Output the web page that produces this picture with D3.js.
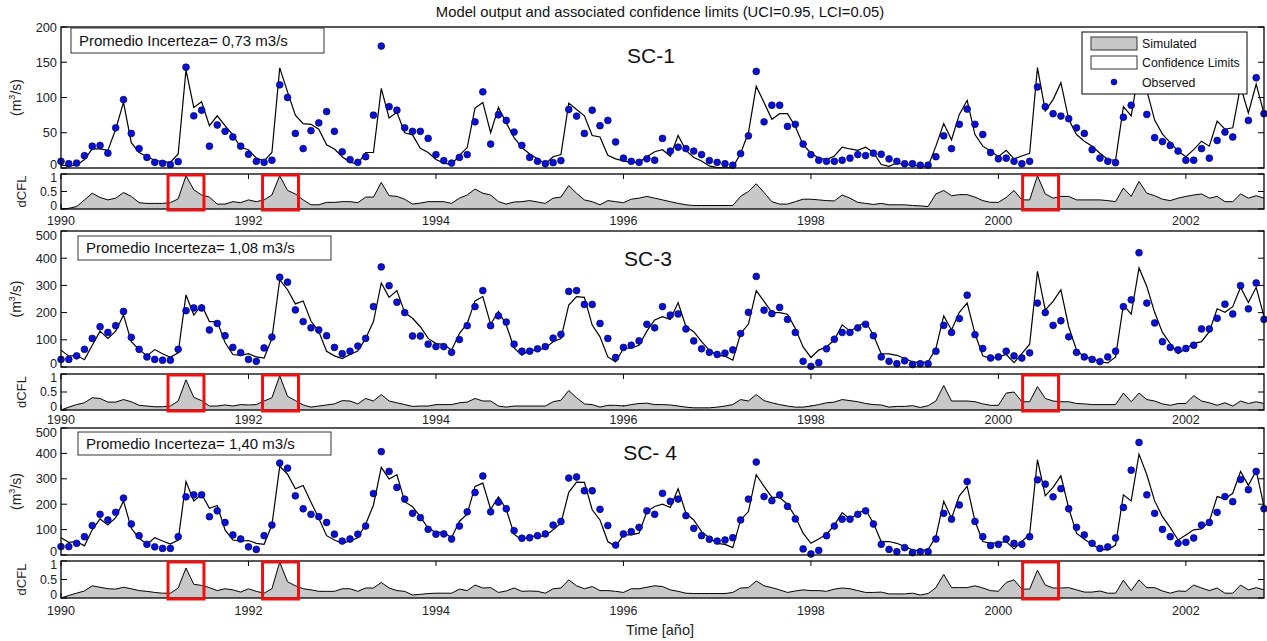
<!DOCTYPE html>
<html><head><meta charset="utf-8">
<script src="https://cdn.jsdelivr.net/npm/d3@7"></script>
<style>body{margin:0;background:#fff}svg{display:block;font-family:"Liberation Sans",Arial,sans-serif}</style>
</head><body>
<svg id="c" width="1267" height="641"></svg>
<script>
// ---------- DATA ----------
const startYear = 1990;
const nMonths = 155;
const yearTicks = [1990, 1992, 1994, 1996, 1998, 2000, 2002];
const qTicksSC1 = [0, 50, 100, 150, 200];
const qTicksSC34 = [0, 100, 200, 300, 400, 500];
const dcflTicks = [0, 0.5, 1];
const stationNames = ["SC-1", "SC-3", "SC- 4"];
const uncertaintyLabels = ["Promedio Incerteza= 0,73 m3/s", "Promedio Incerteza= 1,08 m3/s", "Promedio Incerteza= 1,40 m3/s"];
const legendLabels = ["Simulated", "Confidence Limits", "Observed"];
// highlighted periods (month index from Jan 1990)
const highlightStart = [13.7, 25.8, 123.1];
const highlightEnd = [18.3, 30.4, 127.7];

const sc1Obs = [9.5,6,7,17.5,31,32,21,57,97,49,27.5,15,8,6.7,4.7,9,143,74,82,31,61,52,44,31,19.5,9.5,8,11,118,100,49,27.5,53,64,80,52,23,12,8,16,75,173,87,82,57,52,52,
42,19,10.5,7,15,19,65.5,108,34,75.5,67.5,51,32,15,9.5,6,7.6,10.5,83,73.6,49,82,60,67.5,37,14,9.5,8,13,11,42,24,29.5,27.5,24,19,10.5,8,6,4,20.4,45.6,137,65.5,89,89,59,62,34,19,11,9.5,9.5,
11,14,19,17.6,21,19.5,13,9.5,6,6,4,4,16,45.6,27.5,62,83.6,62,47.5,22,13,14,9.5,6,9.5,115,87,77,73.6,70,57,49,26,14,9.5,7.6,72,89,125,76,43,37.5,32,24,11,11,27.5,14,39,51,44,112,67.5,128,77];
const sc1Sim = [4,3,4,12,27,27,25,55,93,36,22,16,11,9,8,20,139,86,94,60,74,60,47,29,26,14,10,22,142,108,75,63,62,55,33,27,16,8,6,22,22,113,71,79,50,47,28,
22,12,7,5,18,29,85,93,50,86,64,43,29,20,13,6,16,19,92,83,74,46,44,18,13,10,8,8,16,23,26,16.6,46,25,15,10,3,0.5,0.5,0.5,21,50,116,93,69,77,77,59,33,21,14,12,17,
29.5,27,25,29.5,22,5,2.4,7,5,4,2.4,2.4,31,63,40,76,96,47.5,31,24,16,25,13,17,21,142.5,81,97,121,69,47.5,38,31,21,12,11,87,74,140,110,68,48,36,24,16,26,38,31,66.5,55,57,116,78,119,77];
const sc1Dcfl = [0,0.02,0.07,0.26,0.45,0.33,0.26,0.31,0.47,0.36,0.18,0.16,0.16,0.16,0.18,0.29,0.95,0.55,0.4,0.34,0.14,0.14,0.21,0.18,0.26,0.21,0.26,0.4,0.95,0.53,0.43,0.26,0.12,0.12,0.19,0.19,0.21,0.21,0.18,0.34,0.34,0.76,0.38,0.36,0.28,0.14,0.17,
0.21,0.21,0.21,0.16,0.31,0.4,0.57,0.45,0.4,0.21,0.14,0.2,0.21,0.24,0.2,0.16,0.31,0.34,0.67,0.45,0.26,0.21,0.12,0.24,0.21,0.18,0.28,0.31,0.36,0.31,0.26,0.21,0.16,0.12,0.1,0.1,0.1,0.1,0.1,0.1,0.36,0.5,0.72,0.47,0.21,0.14,0.14,0.21,0.28,0.28,0.26,0.24,0.23,
0.4,0.31,0.19,0.16,0.13,0.16,0.12,0.12,0.12,0.1,0.09,0.07,0.43,0.53,0.38,0.41,0.41,0.34,0.24,0.19,0.19,0.33,0.53,0.26,0.26,0.95,0.43,0.31,0.36,0.36,0.26,0.26,0.26,0.26,0.24,0.21,0.6,0.36,0.79,0.45,0.38,0.28,0.24,0.31,0.36,0.4,0.43,0.31,0.36,0.21,0.21,0.43,0.31,0.38,0.31];

const sc3Obs = [28,28,41,65,105,148,127,152,204,109,65,37,28,25,25,65,207,217,217,136,160,115,72,53,28,21,70,110,330,312,210,167,144,136,115,72,49,58,77,105,222,368,299,238,200,114,114,
84,75,75,54,101,152,222,281,152,188,165,84,58,58,67,75,106,120,278,281,230,230,160,105,35,72,80,96,157,144,222,191,195,140,96,67,54,46,51,63,123,201,333,209,196,219,175,127,21,2.5,16,67,102,
127,127,144,157,115,37,21,12,23,9,12,12,58,153,127,178,264,119,68,33,37,58,41,33,52,235,200,153,170,111,54,37,28,20,37,58,222,247,420,235,162,93,72,63,68,80,140,140,179,231,195,299,214,309,175];
const sc3Sim = [62,40,43,27,80,132,105,132,191,93,64,41,64,49,36,52,265,191,228,167,167,90,46,43,49,37,33,105,321,284,232,243,169,130,58,41,31,46,59,105,167,309,256,281,200,179,148,
105,86,83,62,123,160,243,259,157,204,154,70,43,62,62,70,93,105,228,259,256,154,111,37,19,68,70,80,132,173,185,175,237,148,130,93,62,43,40,25,123,158,281,241,201,200,194,142,74,35,62,74,100,
155,132,148,167,117,49,48,43,31,19,16,19,68,188,136,201,235,123,41,31,37,46,16,49,84,352,210,241,284,148,62,37,31,19,15,37,228,194,364,296,201,127,86,49,68,86,93,130,214,201,222,293,237,293,185];
const sc3Dcfl = [0,0.08,0.15,0.2,0.34,0.32,0.22,0.22,0.29,0.23,0.13,0.11,0.09,0.09,0.11,0.25,0.84,0.35,0.26,0.11,0.11,0.14,0.11,0.15,0.14,0.15,0.25,0.34,0.95,0.38,0.26,0.14,0.08,0.11,0.14,0.17,0.26,0.25,0.17,0.32,0.25,0.43,0.25,0.2,0.15,0.1,0.11,
0.11,0.15,0.15,0.15,0.2,0.22,0.32,0.25,0.25,0.11,0.08,0.11,0.11,0.11,0.11,0.11,0.23,0.27,0.54,0.34,0.17,0.15,0.08,0.13,0.13,0.11,0.15,0.18,0.19,0.15,0.15,0.14,0.11,0.08,0.06,0.06,0.06,0.08,0.11,0.15,0.29,0.25,0.43,0.26,0.2,0.15,0.11,0.08,0.08,0.11,0.15,0.2,0.22,
0.29,0.26,0.23,0.18,0.15,0.14,0.08,0.1,0.1,0.12,0.07,0.12,0.25,0.68,0.25,0.25,0.25,0.23,0.17,0.13,0.13,0.47,0.5,0.23,0.23,0.65,0.32,0.25,0.23,0.23,0.18,0.17,0.15,0.15,0.15,0.15,0.47,0.23,0.47,0.29,0.25,0.17,0.13,0.18,0.18,0.4,0.25,0.2,0.13,0.2,0.11,0.25,0.18,0.23,0.18];

const sc4Obs = [33,33,46,72,116,160,138,168,224,122,76,42,32,26,26,72,229,237,237,151,174,128,79,63,32,22,76,118,362,342,233,182,160,151,128,82,55,63,82,114,242,407,329,266,220,164,147,
101,82,83,63,114,170,246,311,170,208,182,96,66,68,76,83,118,132,303,307,253,253,180,116,39,83,92,109,174,160,243,211,220,155,105,76,62,55,59,68,138,220,366,230,214,237,191,142,24,4,18,76,114,
141,141,160,174,122,42,22,13,29,9,13,13,63,164,141,197,289,132,72,37,42,63,46,42,72,296,279,229,261,182,109,79,46,26,32,67,187,334,443,237,164,101,72,46,50,67,118,128,168,230,210,297,257,329,182];
const sc4Sim = [68,50,53,36,99,142,118,147,213,105,66,42,68,55,43,59,289,213,239,184,195,99,59,55,57,46,42,118,349,318,261,274,208,145,76,59,46,55,68,121,197,345,299,316,210,190,151,
105,89,89,68,132,162,270,283,180,229,180,82,59,75,72,76,99,125,247,287,286,178,138,53,33,79,79,86,171,191,200,187,261,164,138,92,68,46,42,29,138,171,316,270,228,226,200,151,86,46,63,82,118,
167,141,164,178,125,53,53,46,33,20,16,22,72,211,145,233,270,134,53,46,49,53,24,53,82,375,233,266,312,184,86,62,42,22,20,39,237,213,397,316,213,151,108,59,79,99,103,132,230,221,243,329,274,332,191];
const sc4Dcfl = [0,0.07,0.13,0.19,0.33,0.29,0.25,0.24,0.29,0.25,0.2,0.18,0.15,0.13,0.13,0.27,0.81,0.37,0.34,0.28,0.2,0.25,0.22,0.16,0.25,0.18,0.13,0.25,0.97,0.44,0.33,0.25,0.22,0.18,0.18,0.18,0.25,0.25,0.18,0.27,0.27,0.42,0.27,0.2,0.18,0.08,0.1,
0.12,0.13,0.13,0.13,0.24,0.2,0.35,0.27,0.28,0.15,0.19,0.27,0.18,0.19,0.18,0.13,0.25,0.27,0.49,0.33,0.25,0.31,0.2,0.2,0.18,0.15,0.25,0.25,0.29,0.33,0.31,0.22,0.18,0.13,0.12,0.12,0.12,0.12,0.12,0.15,0.27,0.28,0.46,0.33,0.28,0.22,0.15,0.19,0.22,0.2,0.2,0.18,0.24,
0.27,0.25,0.2,0.15,0.15,0.16,0.11,0.11,0.11,0.13,0.08,0.12,0.28,0.64,0.28,0.28,0.28,0.33,0.27,0.2,0.18,0.42,0.49,0.24,0.24,0.75,0.35,0.27,0.27,0.28,0.22,0.16,0.16,0.19,0.13,0.13,0.48,0.2,0.49,0.28,0.28,0.19,0.13,0.19,0.18,0.35,0.27,0.2,0.27,0.13,0.13,0.35,0.22,0.28,0.22];

// ---------- LAYOUT ----------
const X0 = 61, X1 = 1264;
const panels = [
  {name: stationNames[0], label: uncertaintyLabels[0], obs: sc1Obs, sim: sc1Sim, dcfl: sc1Dcfl, yMax: 200, yTicks: qTicksSC1,
   main: [27, 168], dc: [174, 209], xLab: 225, box: [71, 28, 253, 25], nameXY: [651, 63]},
  {name: stationNames[1], label: uncertaintyLabels[1], obs: sc3Obs, sim: sc3Sim, dcfl: sc3Dcfl, yMax: 500, yTicks: qTicksSC34,
   main: [231, 367], dc: [374, 410], xLab: 424, box: [78, 236, 253, 24], nameXY: [648, 266]},
  {name: stationNames[2], label: uncertaintyLabels[2], obs: sc4Obs, sim: sc4Sim, dcfl: sc4Dcfl, yMax: 500, yTicks: qTicksSC34,
   main: [428, 555], dc: [561, 598], xLab: 615, box: [78, 432, 253, 23], nameXY: [650, 460]}
];

const svg = d3.select("#c");
const months = d3.range(nMonths);
const x = d3.scaleLinear().domain([0, nMonths - 1]).range([X0, X1]);
const xYear = d3.scaleLinear().domain([startYear, startYear + (nMonths - 1) / 12]).range([X0, X1]);

// title
svg.append("text").attr("x", 660).attr("y", 17).attr("text-anchor", "middle")
  .attr("font-size", 14.8).attr("fill", "#111").text("Model output and associated confidence limits (UCI=0.95, LCI=0.05)");

panels.forEach((p, pi) => {
  const y = d3.scaleLinear().domain([0, p.yMax]).range([p.main[1], p.main[0]]);
  const yd = d3.scaleLinear().domain([0, 1]).range([p.dc[1], p.dc[0]]);
  const g = svg.append("g");

  // ---- main panel ----
  const line = d3.line().x(i => x(i)).y(i => y(p.sim[i]));
  g.append("path").datum(months).attr("d", line).attr("fill", "none")
    .attr("stroke", "#000").attr("stroke-width", 1.2).attr("stroke-linejoin", "miter");
  g.selectAll(".obs").data(months).join("circle")
    .attr("cx", i => x(i)).attr("cy", i => y(p.obs[i])).attr("r", 3.4)
    .attr("fill", "#0a12d2").attr("stroke", "#00006a").attr("stroke-width", 0.7);
  g.append("rect").attr("x", X0).attr("y", p.main[0]).attr("width", X1 - X0).attr("height", p.main[1] - p.main[0])
    .attr("fill", "none").attr("stroke", "#000").attr("stroke-width", 1.3);
  // y ticks (inside, both sides)
  const topTick = p.yTicks[p.yTicks.length - 1];
  p.yTicks.forEach(t => {
    g.append("line").attr("x1", X0).attr("x2", X0 + 6).attr("y1", y(t)).attr("y2", y(t)).attr("stroke", "#000");
    g.append("line").attr("x1", X1 - 6).attr("x2", X1).attr("y1", y(t)).attr("y2", y(t)).attr("stroke", "#000");
    let off = 0;
    if (t === 0) off = -4;
    if (t === topTick && pi > 0) off = 4;
    g.append("text").attr("x", X0 - 4).attr("y", y(t) + off).attr("dy", "0.36em").attr("text-anchor", "end")
      .attr("font-size", 12.8).attr("fill", "#222").text(t);
  });
  // y label
  const yl = g.append("text").attr("transform", `translate(21,${(p.main[0] + p.main[1]) / 2}) rotate(-90)`)
    .attr("text-anchor", "middle").attr("font-size", 14).attr("fill", "#222");
  yl.append("tspan").text("(m");
  yl.append("tspan").attr("font-size", 9).attr("dy", -6).text("3");
  yl.append("tspan").attr("dy", 6).text("/s)");

  // uncertainty box
  g.append("rect").attr("x", p.box[0]).attr("y", p.box[1]).attr("width", p.box[2]).attr("height", p.box[3])
    .attr("fill", "#fff").attr("stroke", "#333").attr("stroke-width", 1);
  g.append("text").attr("x", p.box[0] + 8).attr("y", p.box[1] + p.box[3] / 2).attr("dy", "0.36em")
    .attr("font-size", 15).attr("fill", "#111").text(p.label);
  // station name
  g.append("text").attr("x", p.nameXY[0]).attr("y", p.nameXY[1]).attr("text-anchor", "middle")
    .attr("font-size", 21).attr("fill", "#111").text(p.name);

  // ---- dCFL panel ----
  yearTicks.forEach(t => {
    g.append("line").attr("x1", xYear(t)).attr("x2", xYear(t)).attr("y1", p.dc[0]).attr("y2", p.dc[0] + 5).attr("stroke", "#000");
    g.append("line").attr("x1", xYear(t)).attr("x2", xYear(t)).attr("y1", p.dc[1]).attr("y2", p.dc[1] - 5).attr("stroke", "#000");
  });
  const area = d3.area().x(i => x(i)).y0(yd(0)).y1(i => yd(p.dcfl[i]));
  g.append("path").datum(months).attr("d", area).attr("fill", "#c8c8c8").attr("stroke", "none");
  const dline = d3.line().x(i => x(i)).y(i => yd(p.dcfl[i]));
  g.append("path").datum(months).attr("d", dline).attr("fill", "none").attr("stroke", "#000").attr("stroke-width", 1);
  g.append("rect").attr("x", X0).attr("y", p.dc[0]).attr("width", X1 - X0).attr("height", p.dc[1] - p.dc[0])
    .attr("fill", "none").attr("stroke", "#000").attr("stroke-width", 1.3);
  dcflTicks.forEach(t => {
    g.append("line").attr("x1", X0).attr("x2", X0 + 6).attr("y1", yd(t)).attr("y2", yd(t)).attr("stroke", "#000");
    g.append("line").attr("x1", X1 - 6).attr("x2", X1).attr("y1", yd(t)).attr("y2", yd(t)).attr("stroke", "#000");
    let off = 0;
    if (t === 1) off = 4;
    if (t === 0) off = -3;
    g.append("text").attr("x", X0 - 4).attr("y", yd(t) + off).attr("dy", "0.36em").attr("text-anchor", "end")
      .attr("font-size", 12.3).attr("fill", "#222").text(t);
  });
  g.append("text").attr("transform", `translate(26,${(p.dc[0] + p.dc[1]) / 2}) rotate(-90)`)
    .attr("text-anchor", "middle").attr("font-size", 13).attr("fill", "#222").text("dCFL");
  // year labels
  yearTicks.forEach(t => {
    g.append("text").attr("x", xYear(t)).attr("y", p.xLab).attr("text-anchor", "middle")
      .attr("font-size", 12.5).attr("fill", "#222").text(t);
  });
  // highlight boxes
  highlightStart.forEach((s, k) => {
    g.append("rect").attr("x", x(s)).attr("y", p.dc[0] + 1).attr("width", x(highlightEnd[k]) - x(s)).attr("height", p.dc[1] - p.dc[0])
      .attr("fill", "none").attr("stroke", "#f01010").attr("stroke-width", 3);
  });
});

// x axis title
svg.append("text").attr("x", 660).attr("y", 635).attr("text-anchor", "middle")
  .attr("font-size", 14.5).attr("fill", "#222").text("Time [año]");

// legend
const lg = svg.append("g");
lg.append("rect").attr("x", 1082).attr("y", 32).attr("width", 165).attr("height", 62)
  .attr("fill", "#fff").attr("stroke", "#000").attr("stroke-width", 1);
lg.append("rect").attr("x", 1091).attr("y", 37).attr("width", 46).attr("height", 13)
  .attr("fill", "#c8c8c8").attr("stroke", "#333");
lg.append("rect").attr("x", 1091).attr("y", 56).attr("width", 46).attr("height", 13)
  .attr("fill", "#fff").attr("stroke", "#333");
lg.append("circle").attr("cx", 1114).attr("cy", 82).attr("r", 3).attr("fill", "#0a12d2").attr("stroke", "#00006a").attr("stroke-width", 0.6);
legendLabels.forEach((t, i) => {
  lg.append("text").attr("x", 1142).attr("y", [44, 63, 83][i]).attr("dy", "0.36em")
    .attr("font-size", 12.3).attr("fill", "#111").text(t);
});
</script>
</body></html>
